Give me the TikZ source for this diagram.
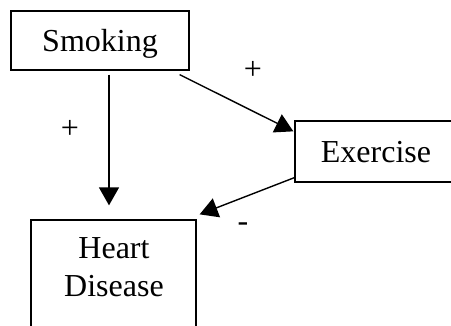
\documentclass[tikz,border=0pt]{standalone}
\usepackage{fontspec}
\setmainfont{Liberation Serif}
\usetikzlibrary{arrows.meta}
\begin{document}
\begin{tikzpicture}[x=1pt,y=-1pt,
  box/.style={draw,line width=1.3pt,inner sep=0pt,font=\fontsize{32}{38}\selectfont,text height=24pt,text depth=3pt},
  arr/.style={line width=1.4pt,-{Triangle[length=18pt,width=20pt]}},
  sign/.style={font=\fontsize{32}{38}\selectfont,anchor=base,inner sep=0pt}]
\useasboundingbox (0,0) rectangle (451,325);
\clip (0,0) rectangle (451,325);
\node[box,minimum width=178pt,minimum height=59pt] (smk) at (100,40.5) {Smoking};
\node[box,minimum width=162pt,minimum height=61pt] (ex) at (376,151.5) {Exercise};
\node[box,minimum width=165pt,minimum height=115pt] (hd) at (113.5,277.5) {};
\node[font=\fontsize{32}{38}\selectfont,align=center,inner sep=0pt,anchor=base] (hdt) at (114,296) {Heart\\Disease};
\draw[arr] ([xshift=9pt,yshift=-4pt]smk.south) -- ([xshift=-4.5pt,yshift=14pt]hd.north);
\draw[arr] ([xshift=-10pt,yshift=-4pt]smk.south east) -- ([xshift=-1pt,yshift=-11pt]ex.north west);
\draw[arr] ([yshift=5pt]ex.south west) -- ([xshift=3pt,yshift=5pt]hd.north east);
\node[sign] (p1) at (253,79) {+};
\node[sign] (p2) at (70,138) {+};
\node[sign] (m1) at (243,231) {-};
\end{tikzpicture}
\end{document}
